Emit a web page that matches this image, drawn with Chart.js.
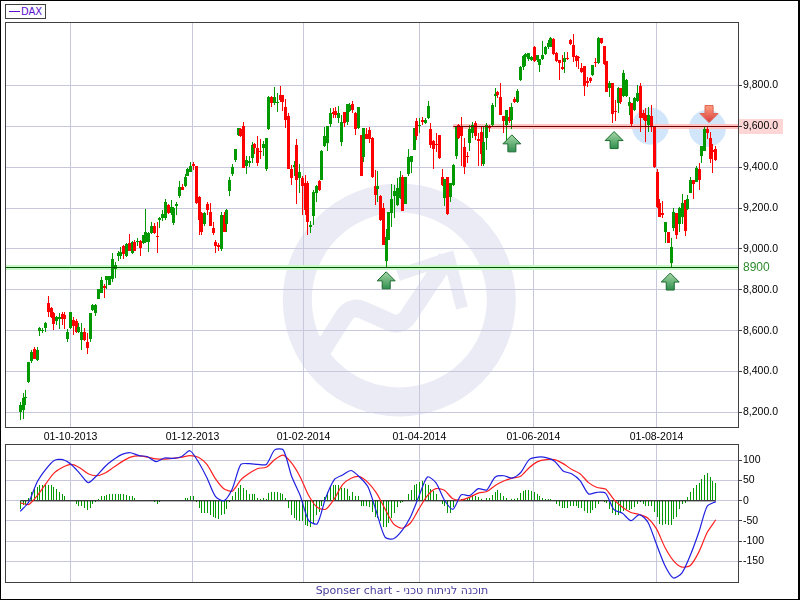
<!DOCTYPE html>
<html>
<head>
<meta charset="utf-8">
<title>DAX</title>
<script src="https://cdn.jsdelivr.net/npm/chart.js@4/dist/chart.umd.min.js"></script>
<style>
html, body { margin: 0; padding: 0; background: #fff; }
#page { position: absolute; left: 0; top: 0; width: 800px; height: 600px; overflow: hidden; }
#edge { position: absolute; left: 0; top: 0; width: 800px; height: 600px; box-sizing: border-box;
  border: 1px solid #000; border-right-width: 2px; pointer-events: none; }
canvas { position: absolute; left: 0; }
#priceChart { top: 0; }
#macdChart { top: 444px; }
#legend { position: absolute; left: 5px; top: 4px; width: 41px; height: 15px; box-sizing: border-box;
  border: 1px solid #404040; background: #fff; color: #5a10d0; font: 10px "DejaVu Sans", sans-serif; line-height: 13px; }
#legend i { position: absolute; left: 3px; top: 6px; width: 11px; height: 1px; background: #5a10d0; }
#legend span { position: absolute; left: 15px; top: 0; }
#footer { position: absolute; left: 5px; width: 794px; top: 584px; text-align: center; color: #4a3f9e;
  font: 11px "DejaVu Sans", sans-serif; line-height: 14px; }
</style>
</head>
<body>
<div id="page">
  <canvas id="priceChart" width="800" height="445"></canvas>
  <canvas id="macdChart" width="800" height="156"></canvas>
  <div id="legend"><i></i><span>DAX</span></div>
  <div id="footer">Sponser chart - תוכנה לניתוח טכני</div>
  <div id="edge"></div>
</div>
<script>
//DAX daily candles
var opens = [
  8203,8212,8272,8350,8450,8510,8457,8600,8597,8613,
  8734,8709,8685,8646,8659,8680,8678,8558,8613,8652,
  8649,8594,8554,8594,8545,8558,8701,8688,8757,8786,
  8819,8848,8824,8851,8901,8966,8966,9015,8963,9031,
  8979,9033,9035,9041,9028,9034,9036,9077,9110,9060,
  9140,9150,9150,9216,9176,9127,9211,9257,9303,9309,
  9358,9378,9417,9404,9254,9175,9122,9221,9182,9100,
  9033,9020,9000,9168,9120,9281,9368,9436,9557,9586,
  9603,9407,9420,9443,9514,9493,9474,9495,9391,9586,
  9745,9712,9712,9753,9753,9693,9650,9393,9400,9509,
  9346,9346,9322,9322,9106,9163,9276,9333,9338,9502,
  9520,9611,9672,9676,9641,9525,9672,9623,9675,9709,
  9663,9590,9558,9449,9563,9582,9545,9309,9294,9260,
  9200,8940,9046,9176,9260,9216,9249,9351,9221,9367,
  9426,9485,9628,9600,9631,9618,9639,9587,9530,9509,
  9558,9351,9247,9351,9252,9312,9455,9606,9598,9501,
  9455,9520,9566,9615,9538,9571,9415,9541,9598,9606,
  9748,9767,9741,9650,9606,9647,9631,9733,9720,9826,
  9891,9940,9927,9924,9986,9924,9899,9927,9953,9986,
  9989,10027,9956,9924,9888,9916,9932,10022,9996,9943,
  9940,9883,9895,9821,9834,9850,9916,9908,10030,9992,
  9921,9785,9810,9676,9712,9785,9748,9748,9699,9712,
  9679,9725,9797,9663,9655,9605,9650,9597,9377,9223,
  9175,9085,9085,8930,9101,9174,9122,9158,9239,9193,
  9275,9337,9328,9390,9455,9480,9585,9545,9483,9488
];
var highs = [
  8250,8293,8309,8445,8505,8518,8520,8618,8615,8644,
  8770,8717,8693,8672,8688,8692,8692,8607,8692,8669,
  8659,8636,8636,8612,8587,8689,8730,8729,8806,8861,
  8830,8870,8868,8979,8938,8992,9008,9020,9028,9074,
  9037,9044,9052,9044,9070,9194,9083,9130,9126,9130,
  9155,9192,9245,9220,9240,9205,9232,9330,9320,9368,
  9394,9425,9427,9408,9258,9180,9180,9231,9225,9130,
  9044,9028,9182,9180,9195,9353,9417,9490,9591,9590,
  9622,9453,9456,9524,9518,9554,9537,9528,9544,9750,
  9748,9790,9761,9797,9753,9732,9667,9411,9428,9537,
  9416,9358,9361,9330,9135,9290,9314,9335,9482,9595,
  9602,9688,9688,9693,9699,9655,9672,9711,9712,9724,
  9672,9693,9558,9590,9590,9598,9548,9384,9379,9265,
  9226,9098,9180,9319,9314,9346,9379,9363,9353,9488,
  9455,9590,9639,9639,9647,9640,9723,9615,9533,9566,
  9558,9392,9343,9351,9324,9413,9600,9610,9647,9541,
  9475,9606,9620,9628,9566,9600,9600,9615,9606,9712,
  9785,9772,9810,9650,9680,9696,9712,9745,9780,9895,
  9948,9956,9960,9943,9992,9950,9927,10018,9995,10022,
  10036,10030,9965,9924,9948,9965,9965,10025,10051,9948,
  9943,9911,9895,9842,9842,9899,9932,10036,10033,9995,
  9921,9821,9810,9728,9793,9788,9875,9832,9741,9712,
  9741,9802,9813,9680,9690,9696,9702,9597,9393,9242,
  9235,9133,9085,9052,9198,9177,9206,9268,9239,9263,
  9353,9337,9404,9418,9504,9600,9597,9572,9515,9504
];
var lows = [
  8162,8168,8235,8345,8443,8460,8453,8575,8588,8595,
  8665,8664,8603,8628,8610,8628,8607,8545,8610,8579,
  8587,8587,8505,8551,8486,8546,8698,8672,8757,8783,
  8760,8806,8822,8840,8856,8943,8950,8953,8960,8992,
  8975,8989,9015,8963,9025,9031,8987,9074,9074,8982,
  9100,9135,9140,9170,9167,9115,9167,9249,9288,9303,
  9358,9374,9384,9220,9068,9068,9110,9167,9110,9068,
  8982,8992,8992,9083,9083,9257,9355,9427,9550,9548,
  9394,9368,9399,9420,9466,9404,9442,9453,9381,9583,
  9696,9704,9672,9720,9676,9590,9393,9311,9355,9221,
  9273,9164,9167,9070,9078,9115,9232,9281,9335,9500,
  9480,9598,9639,9639,9615,9504,9598,9606,9671,9663,
  9558,9585,9359,9423,9536,9520,9348,9216,9232,9135,
  9018,8912,9044,9107,9151,9208,9244,9184,9218,9358,
  9371,9483,9533,9566,9607,9612,9637,9493,9392,9475,
  9439,9306,9211,9167,9230,9306,9439,9538,9407,9367,
  9420,9481,9544,9535,9407,9407,9407,9485,9574,9598,
  9696,9740,9655,9566,9533,9615,9585,9712,9715,9821,
  9875,9895,9920,9921,9916,9915,9867,9925,9950,9980,
  9986,9948,9916,9826,9875,9862,9924,9997,9916,9891,
  9878,9859,9748,9793,9810,9848,9891,9905,10003,9902,
  9769,9745,9614,9626,9663,9710,9741,9745,9655,9600,
  9676,9720,9573,9630,9525,9573,9573,9397,9200,9154,
  9150,9031,9028,8906,9090,9047,9085,9122,9063,9190,
  9272,9245,9325,9288,9418,9478,9540,9418,9369,9428
];
var closes = [
  8236,8273,8275,8445,8495,8463,8508,8613,8600,8636,
  8693,8665,8633,8665,8669,8659,8657,8594,8692,8623,
  8594,8620,8594,8553,8515,8687,8724,8726,8803,8848,
  8809,8868,8868,8950,8920,8982,8985,8976,9023,8992,
  9034,8989,9039,9005,9067,9083,9077,9113,9077,9058,
  9151,9172,9231,9176,9205,9200,9221,9303,9290,9352,
  9391,9407,9404,9224,9140,9083,9176,9192,9113,9077,
  9016,9008,9168,9083,9189,9338,9400,9490,9591,9550,
  9396,9436,9430,9508,9495,9420,9472,9514,9544,9741,
  9715,9741,9717,9728,9720,9631,9393,9348,9411,9335,
  9377,9306,9189,9130,9119,9280,9306,9289,9480,9553,
  9602,9667,9660,9657,9663,9621,9615,9709,9704,9680,
  9587,9693,9359,9590,9538,9538,9350,9265,9309,9143,
  9018,9059,9179,9246,9281,9298,9350,9187,9351,9449,
  9455,9590,9553,9605,9621,9631,9699,9509,9489,9506,
  9447,9312,9343,9171,9322,9411,9598,9541,9554,9403,
  9449,9587,9606,9553,9528,9465,9525,9606,9590,9706,
  9758,9751,9655,9628,9680,9628,9696,9720,9774,9891,
  9943,9953,9956,9940,9921,9948,9927,9948,9989,10009,
  10033,9952,9921,9911,9880,9932,9927,10000,9937,9920,
  9932,9864,9798,9813,9823,9899,9908,10033,10005,9904,
  9769,9813,9658,9670,9789,9717,9859,9826,9720,9611,
  9736,9761,9639,9640,9625,9655,9598,9402,9206,9154,
  9165,9130,9031,9011,9179,9068,9198,9223,9089,9242,
  9337,9320,9397,9337,9502,9589,9567,9442,9475,9437
];

//MACD histogram, one bar per session
var histValues = [
  -20,-11,-10,7,21,30,34,38,38,40,
  40,38,33,28,23,18,13,3,3,-1,
  -9,-12,-13,-18,-23,-17,-7,-3,5,11,
  13,15,16,18,18,18,18,16,15,13,
  11,6,3,1,1,0,0,1,-3,-8,
  -3,0,0,1,1,1,1,3,3,6,
  8,11,11,-2,-19,-30,-30,-31,-34,-39,
  -43,-44,-34,-32,-21,-4,11,23,31,40,
  31,26,18,18,16,8,5,6,5,19,
  21,22,21,20,16,7,-19,-36,-42,-47,
  -49,-49,-59,-62,-64,-54,-36,-28,-12,9,
  21,34,40,40,40,31,31,28,13,21,
  11,11,-12,-12,-12,-16,-28,-40,-42,-49,
  -64,-64,-55,-42,-29,-16,-6,-4,2,17,
  26,38,42,46,49,42,38,28,24,16,
  2,-7,-14,-31,-31,-16,-1,5,5,4,
  7,9,15,13,9,4,2,7,7,15,
  23,26,19,12,7,2,5,5,7,19,
  24,26,26,24,21,16,11,7,5,5,
  5,0,-7,-13,-17,-19,-17,-13,-13,-14,
  -19,-19,-26,-29,-29,-23,-19,-7,0,-4,
  -6,-20,-29,-34,-34,-27,-26,-20,-22,-20,
  -16,-7,-4,-7,-13,-12,-13,-27,-40,-57,
  -59,-57,-60,-61,-44,-39,-21,-9,-5,9,
  23,31,40,43,53,63,68,59,50,44
];
//MACD lines, read at every third session or so
var macdValues = [
  -26,-3,47,78,100,102,90,68,45,62,85,102,115,119,112,109,97,106,105,109,124,
  96,57,11,0,30,90,92,90,90,126,126,60,13,-49,-57,7,52,64,75,59,34,-28,-90,-94,
  -74,-40,11,59,45,2,-21,15,13,30,27,59,62,56,70,102,108,107,98,74,67,50,17,21,
  19,-22,-31,-49,-34,-53,-107,-160,-191,-179,-135,-78,-13,-2
];
var signalValues = [
  -5,-9,13,42,69,83,90,82,67,62,69,83,97,108,111,108,104,103,105,108,112,
  108,90,55,30,24,52,68,80,83,102,113,93,59,13,-16,-21,4,40,56,60,45,19,-20,-57,
  -68,-55,-20,13,30,26,5,2,9,19,23,38,49,56,61,82,97,102,102,92,78,67,45,33,
  29,3,-16,-29,-34,-43,-69,-115,-148,-164,-160,-127,-78,-47
];

var dateTicks = [17.97, 61.65, 101.4, 142.9, 183.7, 227.8];
var dateLabels = ['01-10-2013', '01-12-2013', '01-02-2014', '01-04-2014', '01-06-2014', '01-08-2014'];
var priceTicks = [9800, 9600, 9400, 9200, 9000, 8908, 8800, 8600, 8400, 8200];
var macdTicks = [100, 50, 0, -50, -100, -150];

// the support line sits a little above its 8900 caption in the picture
var supportLevel = 8908;
var supportLabel = '8900';
var resistanceLevel = 9600;
var resistanceFrom = 155;
var upArrows = [[131, 8888], [176, 9558], [212.6, 9574], [232.7, 8882]];
var downArrows = [[246.6, 9618]];
var touchCircles = [[225.6, 9600], [246, 9590]];

var GREEN = '#009900';
var RED = '#ff0000';
var GRID = '#c8c8dc';
var FRAME = '#404040';
var LABEL_FONT = { family: '"Liberation Sans", Arial, sans-serif', size: 10.5 };
var xMin = -5.48, xMax = 256.96;

function candleColor(i) {
  return closes[i] >= opens[i] ? GREEN : RED;
}

var wicks = highs.map(function (h, i) { return { x: i, y: [lows[i], h] }; });
var bodies = opens.map(function (o, i) { return { x: i, y: [Math.min(o, closes[i]), Math.max(o, closes[i])] }; });
var histBars = histValues.map(function (v, i) { return { x: i, y: v }; });
var lastSession = opens.length - 1;
var lineStep = lastSession / (macdValues.length - 1);
var macdLine = macdValues.map(function (v, k) { return { x: k * lineStep, y: v }; });
var signalLine = signalValues.map(function (v, k) { return { x: k * lineStep, y: v }; });

// keep the thin bars on whole pixels so they stay sharp
function snapBars(chart) {
  chart.data.datasets.forEach(function (ds, n) {
    var meta = chart.getDatasetMeta(n);
    if (meta.type !== 'bar') return;
    meta.data.forEach(function (el) {
      el.x = Math.floor(el.x) + 0.5;
      el.y = Math.round(el.y);
      el.base = Math.round(el.base);
    });
  });
}

function drawFrame(chart) {
  var a = chart.chartArea, c = chart.ctx;
  c.save();
  c.strokeStyle = FRAME;
  c.lineWidth = 1;
  c.strokeRect(a.left + 0.5, a.top + 0.5, a.right - a.left, a.bottom - a.top);
  c.restore();
}

function drawWatermark(c) {
  c.save();
  c.strokeStyle = '#ebebf5';
  c.lineWidth = 29;
  c.beginPath();
  c.arc(399.3, 300, 102, 0, Math.PI * 2);
  c.stroke();
  c.lineWidth = 18;
  c.beginPath();
  c.moveTo(318, 357);
  c.arcTo(351, 305, 401, 327, 14);
  c.arcTo(401, 327, 447, 258, 14);
  c.lineTo(447, 258);
  c.stroke();
  c.lineWidth = 12;
  c.lineJoin = 'miter';
  c.beginPath();
  c.moveTo(398, 275);
  c.lineTo(449, 258);
  c.lineTo(462, 308);
  c.stroke();
  c.restore();
}

function drawArrow(c, x, tip, dir, light, dark, edge) {
  // dir 1 points up, -1 points down
  var head = 9 * dir, len = 17 * dir;
  var grad = c.createLinearGradient(0, tip, 0, tip + len);
  grad.addColorStop(0, dir > 0 ? light : dark);
  grad.addColorStop(1, dir > 0 ? dark : light);
  c.save();
  c.fillStyle = grad;
  c.strokeStyle = edge;
  c.lineWidth = 1;
  c.beginPath();
  c.moveTo(x, tip);
  c.lineTo(x + 9, tip + head);
  c.lineTo(x + 4, tip + head);
  c.lineTo(x + 4, tip + len);
  c.lineTo(x - 4, tip + len);
  c.lineTo(x - 4, tip + head);
  c.lineTo(x - 9, tip + head);
  c.closePath();
  c.fill();
  c.stroke();
  c.restore();
}

var priceMarks = {
  id: 'priceMarks',
  beforeDraw: function (chart) {
    var c = chart.ctx, a = chart.chartArea, y = chart.scales.y.getPixelForValue(resistanceLevel);
    drawWatermark(c);
    c.fillStyle = '#ffd6d6';
    c.fillRect(a.right, Math.round(y) - 7, 45, 15);
  },
  beforeDatasetsDraw: function (chart) {
    var c = chart.ctx, a = chart.chartArea, sx = chart.scales.x, sy = chart.scales.y;
    snapBars(chart);
    c.save();
    c.fillStyle = 'rgba(190,218,250,0.7)';
    touchCircles.forEach(function (m) {
      c.beginPath();
      c.arc(sx.getPixelForValue(m[0]), sy.getPixelForValue(m[1]), 18.5, 0, Math.PI * 2);
      c.fill();
    });
    c.fillStyle = '#c8fac8';
    c.fillRect(a.left, Math.floor(sy.getPixelForValue(supportLevel)) - 2, a.right - a.left, 5);
    c.fillStyle = '#ffc4c4';
    var rx = sx.getPixelForValue(resistanceFrom);
    c.fillRect(rx, Math.floor(sy.getPixelForValue(resistanceLevel)) - 2, a.right - rx, 5);
    c.restore();
  },
  afterDatasetsDraw: function (chart) {
    var c = chart.ctx, a = chart.chartArea, sx = chart.scales.x, sy = chart.scales.y;
    c.save();
    c.fillStyle = '#005000';
    c.fillRect(a.left, Math.floor(sy.getPixelForValue(supportLevel)), a.right - a.left, 1);
    c.fillStyle = '#700000';
    var rx = sx.getPixelForValue(resistanceFrom);
    c.fillRect(rx, Math.floor(sy.getPixelForValue(resistanceLevel)), a.right - rx, 1);
    c.restore();
    upArrows.forEach(function (m) {
      drawArrow(c, sx.getPixelForValue(m[0]), sy.getPixelForValue(m[1]), 1, '#a8d8a8', '#2f8f4f', '#1b6b2e');
    });
    downArrows.forEach(function (m) {
      drawArrow(c, sx.getPixelForValue(m[0]), sy.getPixelForValue(m[1]), -1, '#ffa080', '#d83c3c', '#e06050');
    });
    drawFrame(chart);
  }
};

var macdFrame = {
  id: 'macdFrame',
  beforeDatasetsDraw: snapBars,
  afterDatasetsDraw: drawFrame
};

function xAxis(showLabels) {
  return {
    type: 'linear',
    offset: false,
    min: xMin,
    max: xMax,
    afterBuildTicks: function (s) { s.ticks = dateTicks.map(function (v) { return { value: v }; }); },
    afterFit: function (s) {
      s.height = showLabels ? 18 : 0;
      s.paddingLeft = 0;
      s.paddingRight = 0;
    },
    grid: { color: GRID, drawTicks: false, offset: false },
    border: { display: false },
    ticks: {
      display: showLabels,
      autoSkip: false,
      maxRotation: 0,
      padding: 4,
      color: '#000',
      font: LABEL_FONT,
      callback: function (v, i) { return dateLabels[i]; }
    }
  };
}

function fitRight(s) {
  s.width = 62;
  s.paddingTop = 0;
  s.paddingBottom = 0;
}

new Chart(document.getElementById('priceChart').getContext('2d'), {
  type: 'bar',
  data: {
    datasets: [{
      label: 'wicks',
      data: wicks,
      barThickness: 1,
      inflateAmount: 0,
      grouped: false,
      backgroundColor: wicks.map(function (w, i) { return candleColor(i); })
    }, {
      label: 'DAX',
      data: bodies,
      barThickness: 3,
      inflateAmount: 0,
      minBarLength: 1,
      grouped: false,
      backgroundColor: bodies.map(function (b, i) { return candleColor(i); })
    }]
  },
  options: {
    responsive: false,
    animation: false,
    devicePixelRatio: 1,
    layout: { padding: { left: 5, top: 22, right: 0, bottom: 0 } },
    plugins: { legend: { display: false }, tooltip: { enabled: false } },
    scales: {
      x: xAxis(true),
      y: {
        position: 'right',
        min: 8129,
        max: 10110,
        afterBuildTicks: function (s) { s.ticks = priceTicks.map(function (v) { return { value: v }; }); },
        afterFit: fitRight,
        grid: {
          color: function (c) { return c.tick && c.tick.value === supportLevel ? 'rgba(0,0,0,0)' : GRID; },
          tickColor: function (c) { return c.tick && c.tick.value === supportLevel ? 'rgba(0,0,0,0)' : FRAME; },
          tickLength: 4
        },
        border: { display: false },
        ticks: {
          autoSkip: false,
          padding: 1,
          color: function (c) { return c.tick && c.tick.value === supportLevel ? '#2e8b2e' : '#000'; },
          font: function (c) {
            var big = c.tick && c.tick.value === supportLevel;
            return { family: LABEL_FONT.family, size: big ? 12 : LABEL_FONT.size };
          },
          callback: function (v) {
            if (v === supportLevel) return supportLabel;
            return v.toLocaleString('en-US', { minimumFractionDigits: 1, maximumFractionDigits: 1 });
          }
        }
      }
    }
  },
  plugins: [priceMarks]
});

new Chart(document.getElementById('macdChart').getContext('2d'), {
  type: 'bar',
  data: {
    datasets: [{
      label: 'Histogram',
      data: histBars,
      barThickness: 1,
      inflateAmount: 0,
      grouped: false,
      backgroundColor: GREEN,
      order: 4
    }, {
      type: 'line',
      label: 'Zero',
      data: [{ x: 0, y: 0 }, { x: lastSession, y: 0 }],
      borderColor: '#000',
      borderWidth: 1,
      pointRadius: 0,
      order: 3
    }, {
      type: 'line',
      label: 'Signal',
      data: signalLine,
      borderColor: '#ff2020',
      borderWidth: 1.2,
      tension: 0.25,
      pointRadius: 0,
      order: 2
    }, {
      type: 'line',
      label: 'MACD',
      data: macdLine,
      borderColor: '#2020e0',
      borderWidth: 1.2,
      tension: 0.25,
      pointRadius: 0,
      order: 1
    }]
  },
  options: {
    responsive: false,
    animation: false,
    devicePixelRatio: 1,
    layout: { padding: { left: 5, top: 0, right: 0, bottom: 18 } },
    plugins: { legend: { display: false }, tooltip: { enabled: false } },
    scales: {
      x: xAxis(false),
      y: {
        position: 'right',
        min: -201,
        max: 140.6,
        afterBuildTicks: function (s) { s.ticks = macdTicks.map(function (v) { return { value: v }; }); },
        afterFit: fitRight,
        grid: { color: GRID, tickColor: FRAME, tickLength: 4 },
        border: { display: false },
        ticks: {
          autoSkip: false,
          padding: 1,
          color: '#000',
          font: LABEL_FONT,
          callback: function (v) { return String(v); }
        }
      }
    }
  },
  plugins: [macdFrame]
});
</script>
</body>
</html>
